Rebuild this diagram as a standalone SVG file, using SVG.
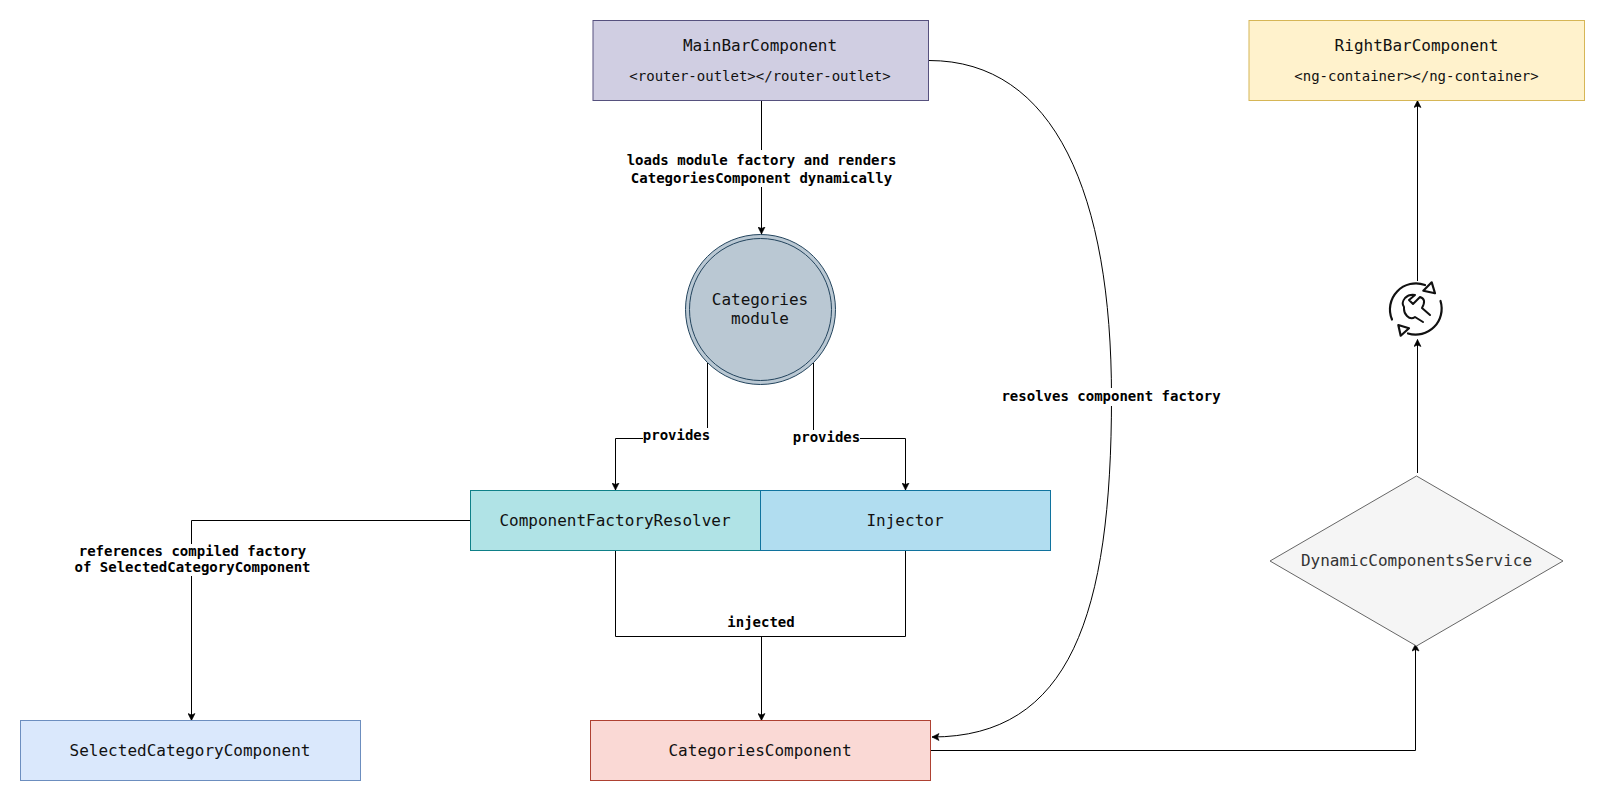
<svg xmlns="http://www.w3.org/2000/svg" width="1605" height="801" viewBox="0 0 1605 801">
<style>
text{font-family:"DejaVu Sans Mono","Liberation Mono",monospace;text-anchor:middle;fill:#111}
.n{font-size:16px}
.s{font-size:14px}
.l{font-size:14px;font-weight:bold;fill:#000}
.c{fill:none;stroke:#000;stroke-width:1}
.bg{fill:#fff;stroke:none}
</style>
<defs>
<marker id="a" viewBox="0 0 8 8" refX="7.5" refY="4" markerWidth="8" markerHeight="8" markerUnits="userSpaceOnUse" orient="auto"><path d="M0.5 0.5L7.5 4L0.5 7.5L2 4Z" fill="#000" stroke="#000" stroke-width="0.6"/></marker>
</defs>
<rect width="1605" height="801" fill="#fff"/>
<g id="connectors">
<path class="c" marker-end="url(#a)" d="M761.500 100.500V234"/>
<path class="c" marker-end="url(#a)" d="M707.500 363V438.500H615.500V490"/>
<path class="c" marker-end="url(#a)" d="M813.500 363V438.500H905.500V490"/>
<path class="c" marker-end="url(#a)" d="M470 520.500H191.500V720.500"/>
<path class="c" d="M615.500 550V636.500H905.500V550"/>
<path class="c" marker-end="url(#a)" d="M761.500 636.500V720.500"/>
<path class="c" marker-end="url(#a)" d="M930.500 750.500H1415.500V644"/>
<path class="c" marker-end="url(#a)" d="M1417.500 473V339.500"/>
<path class="c" marker-end="url(#a)" d="M1417.500 281V100.500"/>
<path class="c" marker-end="url(#a)" d="M929 60.500C1055 60.500 1111.500 195 1111.500 397C1111.500 615 1070 737 932 737"/>
</g>
<g id="edge-labels">
<rect class="bg" x="626" y="150" width="272" height="37"/>
<text class="l" x="761.500" y="165">loads module factory and renders</text>
<text class="l" x="761.500" y="183">CategoriesComponent dynamically</text>
<rect class="bg" x="643" y="428" width="67" height="18"/>
<text class="l" x="676.500" y="440">provides</text>
<rect class="bg" x="793" y="430" width="67" height="18"/>
<text class="l" x="826.500" y="442">provides</text>
<rect class="bg" x="74" y="544" width="238" height="32"/>
<text class="l" x="192.500" y="556">references compiled factory</text>
<text class="l" x="192.500" y="572">of SelectedCategoryComponent</text>
<text class="l" x="761" y="627">injected</text>
<rect class="bg" x="1001" y="388" width="220" height="18"/>
<text class="l" x="1111" y="401">resolves component factory</text>
</g>
<g id="main-bar">
<rect x="593" y="20.500" width="335.500" height="80" fill="#d0cee2" stroke="#56517e"/>
<text class="n" x="760" y="51">MainBarComponent</text>
<text class="s" x="760" y="81">&lt;router-outlet&gt;&lt;/router-outlet&gt;</text>
</g>
<g id="right-bar">
<rect x="1249" y="20.500" width="335.500" height="80" fill="#fff2cc" stroke="#d6b656"/>
<text class="n" x="1416.500" y="51">RightBarComponent</text>
<text class="s" x="1416.500" y="81">&lt;ng-container&gt;&lt;/ng-container&gt;</text>
</g>
<g id="categories-module">
<circle cx="760.500" cy="309.500" r="75" fill="#bac8d3" stroke="#23445d"/>
<circle cx="760.500" cy="309.500" r="71" fill="none" stroke="#23445d"/>
<text class="n" x="760" y="305">Categories</text>
<text class="n" x="760" y="324">module</text>
</g>
<g id="resolver">
<rect x="470.500" y="490.500" width="290" height="60" fill="#b0e3e6" stroke="#0e8088"/>
<text class="n" x="615" y="526">ComponentFactoryResolver</text>
</g>
<g id="injector">
<rect x="760.500" y="490.500" width="290" height="60" fill="#b1ddf0" stroke="#10739e"/>
<text class="n" x="905" y="526">Injector</text>
</g>
<g id="selected-category">
<rect x="20.500" y="720.500" width="340" height="60" fill="#dae8fc" stroke="#6c8ebf"/>
<text class="n" x="190" y="756">SelectedCategoryComponent</text>
</g>
<g id="categories-component">
<rect x="590.500" y="720.500" width="340" height="60" fill="#fad9d5" stroke="#ae4132"/>
<text class="n" x="760" y="756">CategoriesComponent</text>
</g>
<g id="dynamic-service">
<path d="M1416.500 476L1563 561L1416.500 646L1270 561Z" fill="#f5f5f5" stroke="#666"/>
<text class="n" x="1416.500" y="566" style="fill:#333">DynamicComponentsService</text>
</g>
<g id="tool-icon" fill="none" stroke="#111" stroke-width="2.200" stroke-linejoin="round" stroke-linecap="round">
<path d="M1392 319.500A26 26 0 0 1 1425 285"/>
<path d="M1440.500 301A26 26 0 0 1 1408 333.500"/>
<path d="M1431.700 282.300L1435 293.300L1423.300 290.700Z"/>
<path d="M1398.300 325L1409 328.300L1400.700 335.700Z"/>
<path d="M1430 315L1422 308Q1427 299 1420 297L1413 304L1409 300L1415 295Q1409 294 1405 298Q1401 303 1404 307L1404 309Q1404 313 1407 316Q1411 320 1415 317L1423 322" stroke-width="2"/>
</g>
</svg>
